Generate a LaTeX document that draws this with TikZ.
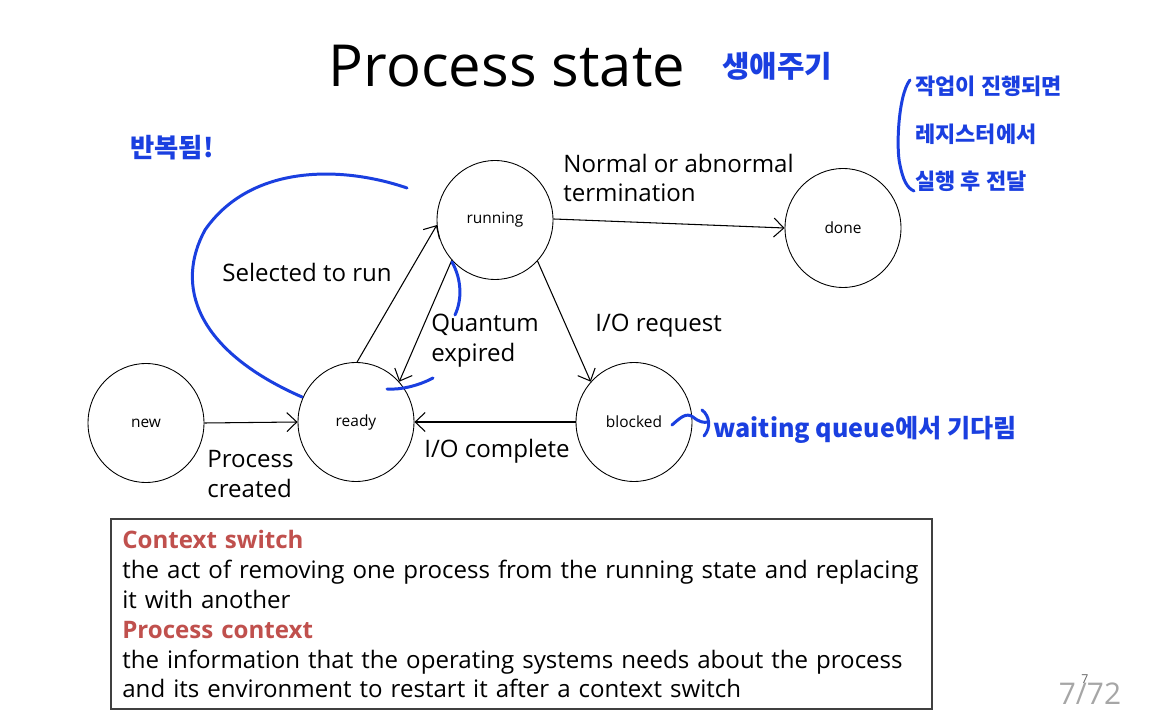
\documentclass[tikz,border=0pt]{standalone}
\usepackage{fontspec}
\setmainfont{Open Sans}
\newfontfamily\kor{Noto Sans CJK KR}
\usetikzlibrary{shapes.geometric,arrows.meta}
\definecolor{pen}{HTML}{1A3FE0}
\definecolor{hdr}{HTML}{C0504D}
\definecolor{pgnum}{HTML}{A6A6A6}
\tikzset{
  state/.style={draw, line width=0.5pt, ellipse, minimum width=2.32cm, minimum height=2.38cm, inner sep=0pt, font=\fontsize{8.8}{10}\selectfont},
  arr/.style={draw, line width=0.6pt, -{Straight Barb[length=2mm,width=3.8mm]}},
  lbl/.style={font=\fontsize{13.7}{17}\selectfont, align=left, inner sep=0pt},
  ink/.style={draw=pen, line width=1.7pt, line cap=round, line join=round},
  hand/.style={text=pen, inner sep=0pt, font=\kor\bfseries}
}
\begin{document}
\begin{tikzpicture}[x=0.02cm, y=-0.02cm]
\useasboundingbox[fill=white] (0,0) rectangle (1156,712);
% title
\node[inner sep=0pt, font=\fontsize{33}{38}\selectfont] (title) at (507,66) {Process state};
% states
\node[state] (new) at (146,423) {new};
\node[state] (ready) at (356,422) {ready};
\node[state] (running) at (495,220) {running};
\node[state] (done) at (843,228) {done};
\node[state] (blocked) at (634,422) {blocked};
% transitions
\draw[arr] (new.east) -- (ready.west);
\draw[arr] (ready.89) -- (running.185);
\draw[arr] (running.223) -- (ready.43);
\draw[arr] (running.316) -- (blocked.137);
\draw[arr] (running.1) -- (done.180);
\draw[arr] (blocked.west) -- (ready.east);
% labels
\node[lbl, anchor=west] (lterm) at (563,178) {Normal or abnormal\\termination};
\node[lbl] (lsel) at (307,272) {Selected to run};
\node[lbl, anchor=west] (lq) at (431,341) {Quantum\\expired};
\node[lbl, anchor=west] (lio) at (595,326) {I/O request};
\node[lbl, anchor=west] (lpc) at (207,474) {Process\\created};
\node[lbl] (lioc) at (497,451) {I/O complete};
% definition box
\draw[line width=0.8pt, draw=black!75] (111,519) rectangle (932,709);
\node[lbl, anchor=north west, text width=16.1cm] (defs) at (122,530) {%
{\bfseries\color{hdr}Context switch}\\
the act of removing one process from the running state and replacing\\
it with another\\
{\bfseries\color{hdr}Process context}\\
the information that the operating systems needs about the process\\
and its environment to restart it after a context switch};
% page number
\node[inner sep=0pt, text=pgnum, font=\fontsize{17}{19}\selectfont] (pg) at (1090,694) {7/72};
\node[inner sep=0pt, text=black!60, font=\fontsize{7}{8}\selectfont] (pgs) at (1085,679) {7};
% handwritten annotations
\node[hand, font=\kor\bfseries\fontsize{17}{19}\selectfont] (h1) at (777,66) {생애주기};
\node[hand, font=\kor\bfseries\fontsize{15}{17}\selectfont] (h2) at (172,148) {반복됨!};
\node[hand, anchor=west, font=\kor\bfseries\fontsize{12.5}{14}\selectfont] (h3) at (915,86) {작업이 진행되면};
\node[hand, anchor=west, font=\kor\bfseries\fontsize{12.5}{14}\selectfont] (h4) at (915,134) {레지스터에서};
\node[hand, anchor=west, font=\kor\bfseries\fontsize{12.5}{14}\selectfont] (h5) at (915,181) {실행 후 전달};
\node[hand, anchor=west, font=\kor\bfseries\fontsize{14.3}{16}\selectfont] (h6) at (713,430) {waiting queue에서 기다림};
% bracket
\draw[ink] (910,80) .. controls (898,95) and (896,150) .. (900,165) .. controls (903,180) and (907,188) .. (914,191);
% loop over ready/running
\draw[ink] (407,188) .. controls (340,165) and (250,165) .. (205,230)
  .. controls (175,285) and (195,350) .. (302,397);
% marks near running and ready
\draw[ink] (452,262) .. controls (462,280) and (462,300) .. (455,315);
\draw[ink] (387,389) .. controls (400,390) and (418,386) .. (433,378);
% tilde arrow after blocked
\draw[ink] (672,425) .. controls (680,418) and (686,412) .. (693,417) .. controls (699,422) and (704,423) .. (708,422);
\draw[ink] (702,410) .. controls (710,416) and (711,428) .. (704,436);
\end{tikzpicture}
\end{document}
